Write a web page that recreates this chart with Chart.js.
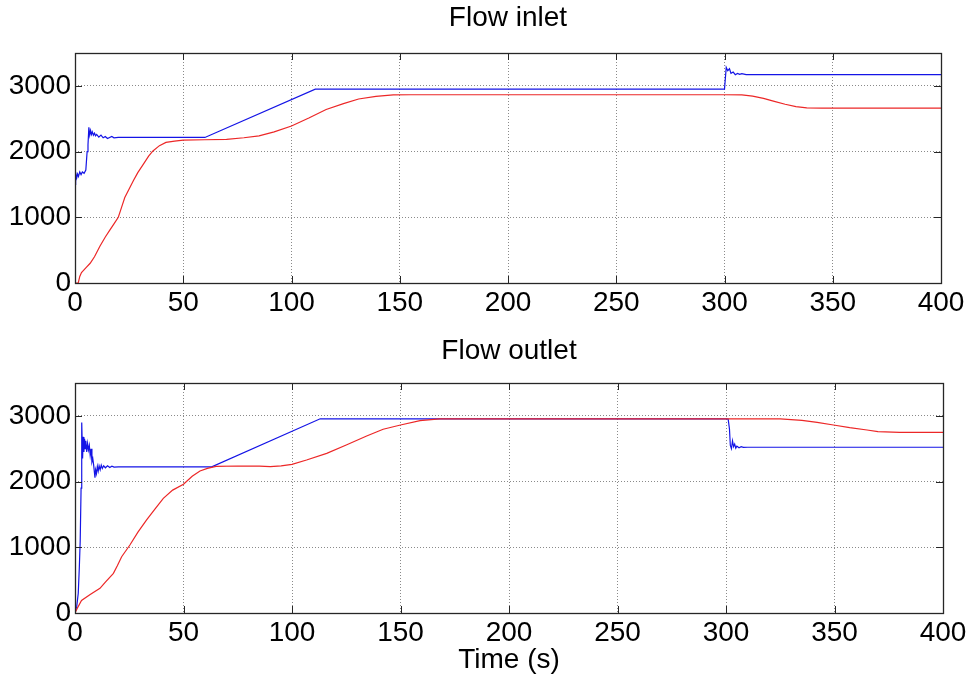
<!DOCTYPE html>
<html>
<head>
<meta charset="utf-8">
<script src="https://cdn.jsdelivr.net/npm/chart.js@4/dist/chart.umd.min.js"></script>
<style>
  html, body { margin: 0; padding: 0; background: #fff; }
  #wrap { position: relative; width: 978px; height: 677px; overflow: hidden; }
  canvas { position: absolute; left: 0; }
</style>
</head>
<body>
<div id="wrap">
  <canvas id="c1" width="978" height="335" style="top:0px"></canvas>
  <canvas id="c2" width="978" height="342" style="top:335px"></canvas>
</div>
<script>
// ---------- tick labels ----------
const xTicks = [0, 50, 100, 150, 200, 250, 300, 350, 400];
const yTicks = [0, 1000, 2000, 3000];

// ---------- Flow inlet ----------
const inletBlueT = [0, 0.3, 0.8, 1.2, 1.6, 2.2, 2.8, 3.4, 4.2, 5.0, 5.6, 6.0, 6.4, 6.8, 7.2, 7.6, 8.0, 8.5, 9.0, 9.5, 10, 11, 12, 13, 14, 15, 17, 18, 20, 60, 111, 300, 300.8, 301.5, 302.3, 303, 304, 305, 306, 307, 308, 310, 400];
const inletBlueV = [1500, 1680, 1600, 1660, 1620, 1690, 1650, 1690, 1670, 1720, 2000, 2100, 2370, 2250, 2320, 2260, 2300, 2250, 2280, 2240, 2260, 2220, 2250, 2210, 2230, 2200, 2230, 2210, 2215, 2215, 2950, 2950, 3280, 3230, 3260, 3190, 3210, 3170, 3190, 3175, 3185, 3170, 3170];
const inletRedT = [0, 1.5, 2.2, 3, 5, 7, 9, 11.5, 14, 16, 18, 20, 21.5, 23, 25, 27, 29, 31.6, 34, 36, 39, 42, 46, 50, 60, 70, 78, 85, 92, 100, 108, 116, 124, 131, 139, 147, 155, 300, 308, 313, 318, 323, 328, 333, 338, 345, 400];
const inletRedV = [0, 0, 100, 160, 230, 300, 400, 560, 700, 800, 900, 1000, 1150, 1300, 1430, 1560, 1680, 1810, 1930, 2010, 2090, 2140, 2160, 2175, 2180, 2185, 2210, 2240, 2300, 2390, 2510, 2640, 2730, 2800, 2840, 2862, 2865, 2865, 2862, 2845, 2810, 2765, 2720, 2685, 2665, 2660, 2660];

// ---------- Flow outlet ----------
const outletBlueT = [0, 0.8, 1.5, 2, 2.4, 2.8, 3.1, 3.5, 3.8, 4.1, 4.4, 4.7, 5.0, 5.4, 5.8, 6.2, 6.6, 7, 7.4, 7.8, 8.2, 8.6, 9.2, 9.5, 9.9, 10.3, 10.7, 11.1, 11.6, 12.1, 12.6, 13.2, 14, 15, 16, 17, 18, 20, 63, 113, 300, 301, 301.6, 302, 302.5, 303, 303.5, 304, 304.5, 305, 306, 307, 308, 310, 400];
const outletBlueV = [0, 100, 300, 700, 1100, 1900, 2900, 2350, 2680, 2450, 2650, 2500, 2620, 2450, 2580, 2480, 2550, 2400, 2500, 2300, 2350, 2250, 2060, 2180, 2120, 2230, 2160, 2240, 2180, 2250, 2200, 2240, 2210, 2240, 2215, 2235, 2220, 2225, 2225, 2955, 2955, 2950, 2800, 2550, 2500, 2620, 2530, 2570, 2510, 2540, 2515, 2530, 2520, 2522, 2522];
const outletRedT = [0, 1, 3, 7, 11.5, 14, 17.7, 19.5, 21.5, 25.3, 29, 33, 37, 40.7, 45, 50, 54, 57.6, 61, 65, 75, 85, 90, 95, 100, 106.7, 116, 125, 134.4, 142, 150, 159, 168, 325, 335, 342, 349.5, 357, 365, 370, 380, 400];
const outletRedV = [0, 70, 190, 280, 376, 470, 604, 720, 857, 1035, 1230, 1416, 1590, 1745, 1870, 1960, 2080, 2160, 2200, 2230, 2237, 2235, 2227, 2240, 2263, 2329, 2430, 2557, 2694, 2796, 2861, 2927, 2953, 2953, 2930, 2900, 2861, 2820, 2785, 2760, 2750, 2750];

const FONT = "'Liberation Sans', Arial, Helvetica, sans-serif";
const zip = (t, v) => t.map((x, i) => ({ x: x, y: v[i] }));

const boxPlugin = {
  id: 'matlabBox',
  afterDatasetsDraw(chart) {
    const ctx = chart.ctx;
    const { left, right, top, bottom } = chart.chartArea;
    const xs = chart.scales.x, ys = chart.scales.y;
    ctx.save();
    ctx.strokeStyle = '#262626';
    ctx.lineWidth = 1;
    ctx.beginPath();
    xTicks.forEach(v => {
      const p = Math.round(xs.getPixelForValue(v)) + 0.5;
      ctx.moveTo(p, bottom); ctx.lineTo(p, bottom - 7);
      ctx.moveTo(p, top); ctx.lineTo(p, top + 7);
    });
    yTicks.forEach(v => {
      const p = Math.round(ys.getPixelForValue(v)) + 0.5;
      ctx.moveTo(left, p); ctx.lineTo(left + 7, p);
      ctx.moveTo(right, p); ctx.lineTo(right - 7, p);
    });
    ctx.stroke();
    ctx.lineWidth = 1.3;
    ctx.strokeRect(Math.round(left) + 0.5, Math.round(top) + 0.5, Math.round(right - left), Math.round(bottom - top));
    ctx.restore();
  }
};

function makeChart(id, titleText, blue, red, opts) {
  return new Chart(document.getElementById(id), {
    type: 'line',
    data: {
      datasets: [
        { data: red, borderColor: '#ec2727', borderWidth: 1.2, pointRadius: 0, tension: 0, fill: false },
        { data: blue, borderColor: '#1414e6', borderWidth: 1.2, pointRadius: 0, tension: 0, fill: false }
      ]
    },
    options: {
      responsive: false,
      animation: false,
      devicePixelRatio: 1,
      layout: { padding: { left: 0, right: opts.padRight, top: 0, bottom: 0 } },
      plugins: {
        legend: { display: false },
        tooltip: { enabled: false },
        title: {
          display: true, text: titleText, fullSize: false, color: '#000',
          font: { family: FONT, size: 28, weight: 'normal', lineHeight: 1 },
          padding: { top: opts.titleTop, bottom: opts.titleBottom }
        }
      },
      scales: {
        x: {
          type: 'linear', min: 0, max: 400,
          afterBuildTicks: s => { s.ticks = xTicks.map(v => ({ value: v })); },
          afterFit: s => { s.height = opts.xHeight; },
          grid: { color: '#8a8a8a', drawTicks: false, lineWidth: 1 },
          border: { display: false, dash: [1, 2] },
          ticks: { color: '#000', padding: 3, maxRotation: 0, autoSkip: false, font: { family: FONT, size: 28 },
                   callback: v => String(v) },
          title: opts.xTitle ? {
            display: true, text: opts.xTitle, color: '#000',
            font: { family: FONT, size: 28, lineHeight: 1 }, padding: { top: 0, bottom: opts.xTitleBottom }
          } : { display: false }
        },
        y: {
          type: 'linear', min: 0, max: 3500,
          afterBuildTicks: s => { s.ticks = yTicks.map(v => ({ value: v })); },
          afterFit: s => { s.width = 75; },
          grid: { color: '#8a8a8a', drawTicks: false, lineWidth: 1 },
          border: { display: false, dash: [1, 2] },
          ticks: { color: '#000', padding: 4, font: { family: FONT, size: 28 }, callback: v => String(v) }
        }
      }
    },
    plugins: [boxPlugin]
  });
}

makeChart('c1', 'Flow inlet', zip(inletBlueT, inletBlueV), zip(inletRedT, inletRedV),
  { padRight: 37, titleTop: 4.5, titleBottom: 20.5, xHeight: 52 });
makeChart('c2', 'Flow outlet', zip(outletBlueT, outletBlueV), zip(outletRedT, outletRedV),
  { padRight: 35, titleTop: 2.7, titleBottom: 17.3, xHeight: 64, xTitle: 'Time (s)', xTitleBottom: 3 });
</script>
</body>
</html>
